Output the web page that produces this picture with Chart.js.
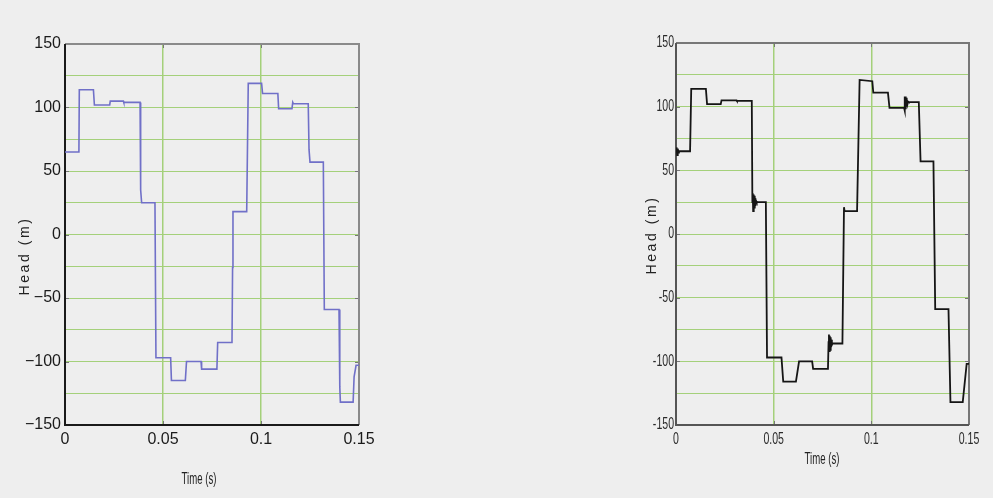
<!DOCTYPE html>
<html><head><meta charset="utf-8">
<script src="https://cdn.jsdelivr.net/npm/chart.js@4"></script>
<style>
html,body{margin:0;padding:0;background:#eeeeee;width:993px;height:498px;overflow:hidden}
#c1{position:absolute;left:0;top:0}
#c2{position:absolute;left:600px;top:0}
</style></head><body>
<canvas id="c1" width="400" height="498"></canvas>
<canvas id="c2" width="393" height="498"></canvas>
<script>
// ---- data ----
const timeLeft = [0,0.0071,0.0073,0.0145,0.0150,0.0228,0.0231,0.0298,0.0300,0.0383,0.0386,0.0391,0.0459,0.0464,0.0539,0.0543,0.0614,0.0620,0.0694,0.0697,0.0775,0.0779,0.0852,0.0855,0.0857,0.0927,0.0935,0.1003,0.1008,0.1086,0.1090,0.1158,0.1162,0.1165,0.1241,0.1245,0.1250,0.1318,0.1323,0.1398,0.1402,0.1405,0.1470,0.1475,0.1485,0.15];
const headLeft = [65,65,114,114,102,102,105,105,104,104,35,25,25,-97,-97,-115,-115,-100,-100,-106,-106,-85,-85,-26,18,18,119,119,111,111,99,99,104,103,103,67,57,57,-59,-59,-120,-132,-132,-112,-103,-103];

const timeRight = [0,0.0003,0.0006,0.0009,0.0012,0.0015,0.0072,0.0078,0.0153,0.0159,0.0229,0.0233,0.0310,0.0312,0.0388,0.0391,0.0393,0.0395,0.0397,0.0399,0.0401,0.0403,0.0405,0.0407,0.0410,0.0413,0.0460,0.0466,0.0540,0.0549,0.0614,0.0630,0.0697,0.0702,0.0778,0.0781,0.0783,0.0785,0.0787,0.0789,0.0791,0.0793,0.0795,0.0798,0.0801,0.0852,0.0860,0.0863,0.0927,0.0940,0.1005,0.1010,0.1085,0.1093,0.1168,0.1170,0.1172,0.1174,0.1176,0.1178,0.1180,0.1182,0.1185,0.1188,0.1192,0.1243,0.1252,0.1318,0.1327,0.1395,0.1405,0.1468,0.1488,0.15];
const headRight = [65,68,62,67,64,65,65,114,114,102,102,105,105,104.5,104.5,25,32,18,31,19,30,20,28,22,26,25,25,-97,-97,-116,-116,-100,-100,-106,-106,-85,-79,-92,-80,-91,-81,-89,-83,-87,-86,-86,21,18,18,121,120,111,111,99,99,108,97,108,98,107,100,106,102,104,103.5,103.5,57,57,-59,-59,-132,-132,-102,-102];

const xTickValues = [0, 0.05, 0.1, 0.15];
const xTickLabels = ['0', '0.05', '0.1', '0.15'];
const yTickValues = [-150,-125,-100,-75,-50,-25,0,25,50,75,100,125,150];
const yTickLabelsLeft  = ['\u2212150','','\u2212100','','\u221250','','0','','50','','100','','150'];
const yTickLabelsRight = ['-150','','-100','','-50','','0','','50','','100','','150'];
const yTitle = 'Head (m)';
const xTitle = 'Time (s)';

const GRID = '#a4d07a';

function framePlugin(cfg){
  return {
    id:'frame'+cfg.id,
    beforeDatasetsDraw(chart){
      const a = chart.chartArea, c = chart.ctx;
      c.save();
      c.strokeStyle = '#777'; c.lineWidth = 1;
      const ys = chart.scales.y, xs = chart.scales.x;
      yTickValues.forEach((v)=>{
        if (v % 50 !== 0 || v===150 || v===-150) return;
        const py = Math.round(ys.getPixelForValue(v))+0.5;
        c.beginPath(); c.moveTo(a.left, py); c.lineTo(a.left+4, py);
        c.moveTo(a.right, py); c.lineTo(a.right-4, py); c.stroke();
      });
      xTickValues.forEach(v=>{
        if (v===0 || v===0.15) return;
        const px = Math.round(xs.getPixelForValue(v))+0.5;
        c.beginPath(); c.moveTo(px, a.bottom); c.lineTo(px, a.bottom-4);
        c.moveTo(px, a.top); c.lineTo(px, a.top+4); c.stroke();
      });
      c.lineWidth = 2;
      c.strokeStyle = cfg.boxColor;
      c.beginPath(); c.moveTo(a.left, a.top); c.lineTo(a.right, a.top); c.lineTo(a.right, a.bottom); c.stroke();
      c.strokeStyle = cfg.axisColor;
      c.beginPath(); c.moveTo(a.left, a.top); c.lineTo(a.left, a.bottom); c.lineTo(a.right, a.bottom); c.stroke();
      c.restore();
    },
    afterDraw(chart){
      const c = chart.ctx, a = chart.chartArea;
      // condensed tick labels (right chart)
      if (cfg.condensedTicks){
        const ys = chart.scales.y, xs = chart.scales.x;
        c.save();
        c.fillStyle = cfg.tickColor;
        c.font = '16px "Liberation Sans", Arial, sans-serif';
        c.textBaseline = 'middle';
        yTickValues.forEach((v,i)=>{
          const lab = cfg.yLabels[i]; if (!lab) return;
          const py = ys.getPixelForValue(v);
          c.save(); c.translate(a.left - cfg.yPad, py); c.scale(0.66,1);
          c.textAlign = 'right'; c.fillText(lab, 0, 0); c.restore();
        });
        xTickValues.forEach((v,i)=>{
          const px = xs.getPixelForValue(v);
          c.save(); c.translate(px, a.bottom + 15); c.scale(0.66,1);
          c.textAlign = 'center'; c.fillText(xTickLabels[i], 0, 0); c.restore();
        });
        c.restore();
      }
      c.save();
      c.fillStyle = '#222';
      c.translate(cfg.yTitleX, cfg.yTitleY);
      c.rotate(-Math.PI/2);
      c.font = '14px "Liberation Sans", Arial, sans-serif';
      c.letterSpacing = '2.6px';
      c.textAlign = 'center'; c.textBaseline = 'middle';
      c.fillText(yTitle, 0, 0);
      c.restore();
      c.save();
      c.fillStyle = '#222';
      c.translate(cfg.xTitleX, cfg.xTitleY);
      c.scale(0.6, 1);
      c.font = '16px "Liberation Sans", Arial, sans-serif';
      c.textAlign = 'center'; c.textBaseline = 'middle';
      c.fillText(xTitle, 0, 0);
      c.restore();
    }
  };
}

function makeChart(cfg){
  const data = cfg.times.map((t,i)=>({x:t, y:cfg.heads[i]}));
  return new Chart(document.getElementById(cfg.id), {
    type:'line',
    data:{datasets:[{data, borderColor:cfg.lineColor, borderWidth:cfg.lineWidth, pointRadius:0, tension:0, fill:false}]},
    options:{
      responsive:false, animation:false, devicePixelRatio:1,
      layout:{padding:{left:0, right:cfg.padRight, top:cfg.padTop, bottom:0}},
      plugins:{legend:{display:false}, tooltip:{enabled:false}},
      scales:{
        x:{
          type:'linear', min:0, max:0.15,
          afterBuildTicks(s){ s.ticks = xTickValues.map(v=>({value:v})); },
          afterFit(s){ s.height = cfg.xHeight; },
          ticks:{ display:!cfg.condensedTicks, autoSkip:false, maxRotation:0, padding:cfg.xPad, color:cfg.tickColor,
                  font:cfg.tickFont,
                  callback:(v)=>{ const i = xTickValues.findIndex(t=>Math.abs(t-v)<1e-9); return i>=0 ? xTickLabels[i] : ''; } },
          grid:{ drawTicks:false, lineWidth:1.5,
                 color:(ctx)=> (ctx.tick && (ctx.tick.value===0 || Math.abs(ctx.tick.value-0.15)<1e-9)) ? 'rgba(0,0,0,0)' : GRID },
          border:{display:false}
        },
        y:{
          type:'linear', min:-150, max:150,
          afterBuildTicks(s){ s.ticks = yTickValues.map(v=>({value:v})); },
          afterFit(s){ s.width = cfg.yWidth; },
          ticks:{ display:!cfg.condensedTicks, autoSkip:false, padding:cfg.yPad, color:cfg.tickColor, font:cfg.tickFont,
                  callback:(v)=>{ const i = yTickValues.indexOf(v); return i>=0 ? cfg.yLabels[i] : ''; } },
          grid:{ drawTicks:false, lineWidth:1,
                 color:(ctx)=> (ctx.tick && Math.abs(ctx.tick.value)===150) ? 'rgba(0,0,0,0)' : GRID },
          border:{display:false}
        }
      }
    },
    plugins:[framePlugin(cfg)]
  });
}

makeChart({
  id:'c1', times:timeLeft, heads:headLeft, lineColor:'rgb(112,112,200)', lineWidth:1.6,
  padRight:41, padTop:44, xHeight:73, yWidth:65, xPad:5, yPad:4,
  tickColor:'#1a1a1a', tickFont:{family:'"Liberation Sans", Arial, sans-serif', size:16},
  yLabels:yTickLabelsLeft, boxColor:'#8a8a8a', axisColor:'#1a1a1a', condensedTicks:false,
  yTitleX:25, yTitleY:256, xTitleX:199, xTitleY:480
});
makeChart({
  id:'c2', times:timeRight, heads:headRight, lineColor:'#151515', lineWidth:1.8,
  padRight:24, padTop:43, xHeight:73, yWidth:76, xPad:6, yPad:2,
  tickColor:'#2a2a2a', tickFont:{family:'"Liberation Sans", sans-serif', size:15},
  yLabels:yTickLabelsRight, boxColor:'#777777', axisColor:'#555555', condensedTicks:true,
  yTitleX:52, yTitleY:235, xTitleX:222, xTitleY:460
});
</script>
</body></html>
